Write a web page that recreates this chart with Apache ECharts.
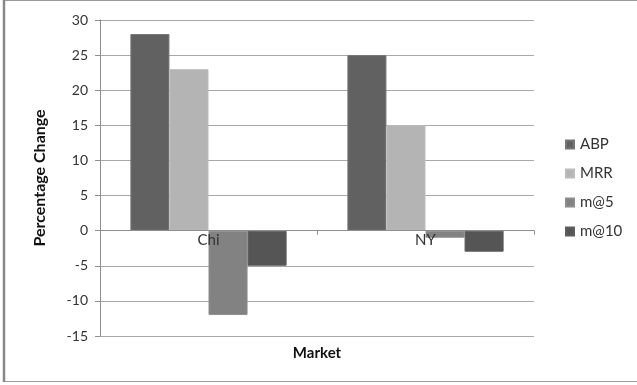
<!DOCTYPE html>
<html>
<head>
<meta charset="utf-8">
<script src="https://cdn.jsdelivr.net/npm/echarts@6/dist/echarts.min.js"></script>
<style>
  html, body { margin: 0; padding: 0; background: #fff; }
  #chart { width: 637px; height: 385px; }
</style>
</head>
<body>
<div id="chart"></div>
<script>
// Markets on the category axis
const markets = ['Chi', 'NY'];

// Percentage change per measure, one value per market
const abp = [28, 25];
const mrr = [23, 15];
const m5 = [-12, -1];
const m10 = [-5, -3];

// Value axis range
const yMin = -15;
const yMax = 30;
const yStep = 5;

const seriesNames = ['ABP', 'MRR', 'm@5', 'm@10'];
const seriesData = [abp, mrr, m5, m10];
const seriesColors = ['#616161', '#b4b4b4', '#828282', '#555555'];
const seriesBorders = ['#767676', '#bdbdbd', '#8c8c8c', '#5e5e5e'];

const font = 'Lato, "Open Sans", sans-serif';

const chart = echarts.init(document.getElementById('chart'), null, { renderer: 'canvas' });

chart.setOption({
  backgroundColor: '#ffffff',
  animation: false,
  textStyle: { fontFamily: font },
  grid: { left: 100, right: 103, top: 20, bottom: 49, containLabel: false, outerBoundsMode: 'none' },
  legend: {
    orient: 'vertical',
    left: 560,
    top: 132,
    itemWidth: 8,
    itemHeight: 8,
    itemGap: 14,
    icon: 'rect',
    textStyle: { fontFamily: font, fontSize: 15, color: '#333', padding: [0, 0, 0, 1] },
    data: seriesNames
  },
  xAxis: {
    type: 'category',
    data: markets,
    z: 10,
    axisLine: { onZero: true, lineStyle: { color: '#8e8e8e', width: 1 } },
    axisTick: { show: true, length: 4, lineStyle: { color: '#8e8e8e' } },
    // category names sit just under the zero line
    axisLabel: { margin: -103, fontFamily: font, fontSize: 15, color: '#333' },
    name: 'Market',
    nameLocation: 'middle',
    nameGap: 10,
    nameTextStyle: { fontFamily: font, fontSize: 15, fontWeight: 'bold', color: '#111' }
  },
  yAxis: {
    type: 'value',
    min: yMin,
    max: yMax,
    interval: yStep,
    axisLine: { show: true, lineStyle: { color: '#8e8e8e' } },
    axisTick: { show: true, length: 5, lineStyle: { color: '#8e8e8e' } },
    axisLabel: { margin: 12, fontFamily: font, fontSize: 14, color: '#333' },
    splitLine: { lineStyle: { color: '#a8a8a8', width: 1 } },
    name: 'Percentage Change',
    nameLocation: 'middle',
    nameGap: 52,
    nameTextStyle: { fontFamily: font, fontSize: 16, fontWeight: 'bold', color: '#111' }
  },
  series: seriesNames.map((name, i) => ({
    name: name,
    type: 'bar',
    data: seriesData[i],
    barGap: '0%',
    barCategoryGap: '28%',
    itemStyle: { color: seriesColors[i], borderColor: seriesBorders[i], borderWidth: 1 }
  })),
  graphic: [
    {
      type: 'polyline',
      silent: true,
      z: 100,
      shape: { points: [[700, 0.5], [4, 0.5], [4, 381.5], [700, 381.5]] },
      style: { fill: null, stroke: '#9a9a9a', lineWidth: 1 }
    },
    {
      type: 'line',
      silent: true,
      z: 100,
      shape: { x1: 4, y1: 0, x2: 4, y2: 382 },
      style: { stroke: '#888', lineWidth: 2.5 }
    }
  ]
});
</script>
</body>
</html>
